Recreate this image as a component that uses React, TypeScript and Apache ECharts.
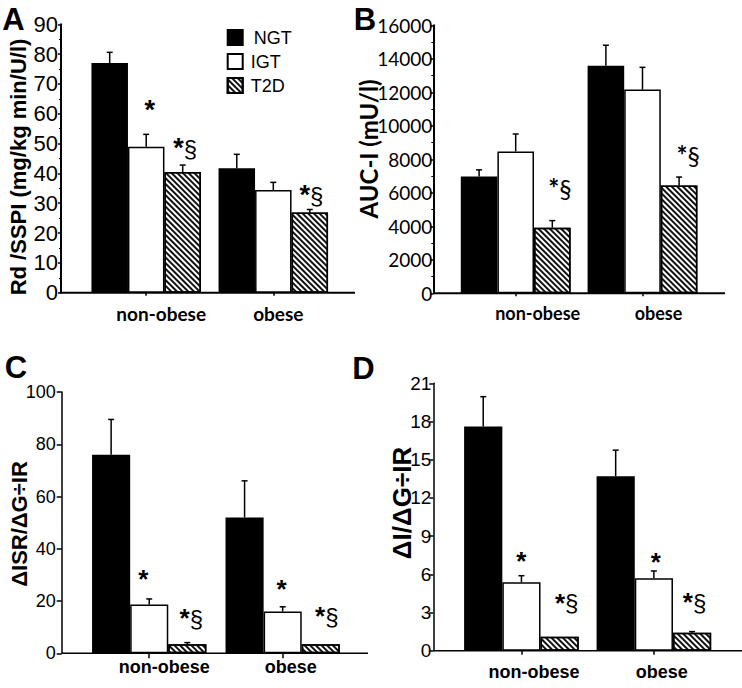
import React, { useEffect, useRef } from 'react';
import * as echarts from 'echarts';

// ---------- data ----------
const categories = ['non-obese', 'obese'];
const groups = ['NGT', 'IGT', 'T2D'];

// Panel A: Rd/SSPI (mg/kg min/U/l)
const aNGT = [77.0, 41.7];
const aNGTsem = [3.6, 4.7];
const aIGT = [48.9, 34.4];
const aIGTsem = [4.2, 2.6];
const aT2D = [40.5, 26.9];
const aT2Dsem = [2.3, 1.0];
const aMarks = [['', '*', '*§'], ['', '', '*§']];

// Panel B: AUC-I (mU/l)
const bNGT = [6970, 13590];
const bNGTsem = [400, 1220];
const bIGT = [8470, 12160];
const bIGTsem = [1040, 1330];
const bT2D = [3920, 6440];
const bT2Dsem = [420, 500];
const bMarks = [['', '', '*§'], ['', '', '*§']];

// Panel C: ΔISR/ΔG÷IR
const cNGT = [76, 52];
const cNGTsem = [13.5, 14];
const cIGT = [18.7, 16];
const cIGTsem = [2.1, 1.8];
const cT2D = [3.5, 3.5];
const cT2Dsem = [0.6, 0.2];
const cMarks = [['', '*', '*§'], ['', '*', '*§']];

// Panel D: ΔI/ΔG÷IR
const dNGT = [17.6, 13.7];
const dNGTsem = [2.35, 2.05];
const dIGT = [5.37, 5.69];
const dIGTsem = [0.52, 0.57];
const dT2D = [1.1, 1.41];
const dT2Dsem = [0.05, 0.09];
const dMarks = [['', '*', '*§'], ['', '*', '*§']];

// y axis scales
const aTicks = { min: 0, max: 90, interval: 10 };
const bTicks = { min: 0, max: 16000, interval: 2000 };
const cTicks = { min: 0, max: 100, interval: 20 };
const dTicks = { min: 0, max: 21, interval: 3 };

const FA = 'Liberation Sans';
const FL = 'Lato';

// ---------- layout / style ----------
const panels = [
  {
    letter: 'A', letterX: 13.5, letterY: 19,
    name: 'Rd /SSPI (mg/kg min/U/l)', nameX: 18.5, nameY: 167, nameFont: FA, nameSize: 22,
    means: [aNGT, aIGT, aT2D], sems: [aNGTsem, aIGTsem, aT2Dsem], marks: aMarks, ticks: aTicks,
    axisX: 61, top: 24.3, bottom: 292.7, left: 82.65, right: 336.85, lineRight: 355, barW: 36.5,
    lw: 2, tickLen: 3, minor: true, tickFont: FA, tickSize: 22, labelMargin: 3,
    catFont: FL, catSize: 19, catMargin: 11, catOff: [15, 5], xTickLen: 3,
    markFont: FA, starSize: 27, sectSize: 24,
    markOff: [[[0, 0], [3.6, -24.5], [2.5, -16.7]], [[0, 0], [0, 0], [1.7, -14.3]]],
  },
  {
    letter: 'B', letterX: 365, letterY: 19,
    name: 'AUC-I (mU/l)', nameX: 368, nameY: 149, nameFont: FL, nameSize: 24,
    means: [bNGT, bIGT, bT2D], sems: [bNGTsem, bIGTsem, bT2Dsem], marks: bMarks, ticks: bTicks,
    axisX: 433.3, top: 25.3, bottom: 293.3, left: 452.3, right: 705.9, lineRight: 725, barW: 36.6,
    lw: 2, tickLen: 3, minor: true, tickFont: FL, tickSize: 19, labelMargin: 1,
    catFont: FL, catSize: 18, catMargin: 11, catOff: [22, 16], xTickLen: 3,
    markFont: FL, starSize: 26, sectSize: 25,
    markOff: [[[0, 0], [0, 0], [7.7, -32.4]], [[0, 0], [0, 0], [9, -22.3]]],
  },
  {
    letter: 'C', letterX: 16, letterY: 367.5,
    name: 'ΔISR/ΔG÷IR', nameX: 19.5, nameY: 524, nameFont: FA, nameSize: 22,
    means: [cNGT, cIGT, cT2D], sems: [cNGTsem, cIGTsem, cT2Dsem], marks: cMarks, ticks: cTicks,
    axisX: 61.7, top: 392, bottom: 653.3, left: 82.5, right: 349.4, lineRight: 368, barW: 38.1,
    lw: 1.5, tickLen: 5, minor: false, tickFont: FA, tickSize: 18, labelMargin: 6,
    catFont: FA, catSize: 18, catMargin: 5, catOff: [15, 8], xTickLen: 5,
    markFont: FA, starSize: 26, sectSize: 24,
    markOff: [[[0, 0], [-6, -19.5], [4, -24.4]], [[0, 0], [-1, -17.9], [6, -27.6]]],
  },
  {
    letter: 'D', letterX: 363.5, letterY: 368.5,
    name: 'ΔI/ΔG÷IR', nameX: 402, nameY: 503, nameFont: FA, nameSize: 26,
    means: [dNGT, dIGT, dT2D], sems: [dNGTsem, dIGTsem, dT2Dsem], marks: dMarks, ticks: dTicks,
    axisX: 433.3, top: 383.3, bottom: 650.7, left: 455.2, right: 720.1, lineRight: 742, barW: 38.2,
    lw: 1.5, tickLen: 4, minor: false, tickFont: FA, tickSize: 19, labelMargin: 2,
    catFont: FA, catSize: 18, catMargin: 12, catOff: [12.5, 8], xTickLen: 4,
    markFont: FA, starSize: 26, sectSize: 24,
    markOff: [[[0, 0], [0, -15.2], [7, -33.4]], [[0, 0], [2, -8.8], [2.5, -29.4]]],
  },
];

const hatch = {
  symbol: 'rect',
  symbolSize: 1,
  dashArrayX: [1, 0],
  dashArrayY: [1.5, 1.5],
  rotation: Math.PI / 4,
  color: '#111',
};

const groupStyles = [
  { color: '#000', borderColor: '#000', borderWidth: 1.5, decal: 'none' },
  { color: '#fff', borderColor: '#000', borderWidth: 1.5, decal: 'none' },
  { color: '#fff', borderColor: '#000', borderWidth: 1.5, decal: hatch },
];

function markText(m: string) {
  return m.split('').map((ch) => (ch === '*' ? `{s|${ch}}` : `{p|${ch}}`)).join('');
}

function buildOption() {
  const grid: any[] = [];
  const xAxis: any[] = [];
  const yAxis: any[] = [];
  const series: any[] = [];
  const graphic: any[] = [];

  panels.forEach((p, i) => {
    grid.push({ left: p.left, top: p.top, width: p.right - p.left, height: p.bottom - p.top, containLabel: false });
    xAxis.push({
      type: 'category', gridIndex: i, data: categories, boundaryGap: true,
      axisLine: { show: false },
      axisTick: { show: true, alignWithLabel: true, length: p.xTickLen, lineStyle: { color: '#000', width: 1.5 } },
      axisLabel: {
        margin: p.catMargin, interval: 0,
        formatter: (v: string) => (v === categories[0] ? `{a|${v}}` : `{b|${v}}`),
        rich: {
          a: { fontFamily: p.catFont, fontSize: p.catSize, fontWeight: 'bold', color: '#000', padding: [0, 0, 0, 2 * p.catOff[0]] },
          b: { fontFamily: p.catFont, fontSize: p.catSize, fontWeight: 'bold', color: '#000', padding: [0, 0, 0, 2 * p.catOff[1]] },
        },
      },
      splitLine: { show: false },
    });
    yAxis.push({
      type: 'value', gridIndex: i, min: p.ticks.min, max: p.ticks.max, interval: p.ticks.interval,
      offset: p.left - p.axisX,
      axisLine: { show: true, lineStyle: { color: '#000', width: p.lw } },
      axisTick: { show: true, length: p.tickLen, lineStyle: { color: '#000', width: 1.5 } },
      minorTick: { show: p.minor, splitNumber: 2, length: 2, lineStyle: { color: '#000', width: 1 } },
      axisLabel: {
        color: '#000', fontFamily: p.tickFont, fontSize: p.tickSize, margin: p.labelMargin,
        formatter: (v: number) => String(v),
      },
      splitLine: { show: false },
    });

    groups.forEach((g, gi) => {
      series.push({
        type: 'bar', name: g, xAxisIndex: i, yAxisIndex: i,
        data: p.means[gi], barWidth: p.barW, barGap: '0%',
        itemStyle: groupStyles[gi], silent: true,
      });
    });

    const ebData: number[][] = [];
    const ebMarks: string[] = [];
    const ebOff: number[][] = [];
    categories.forEach((_, ci) => {
      groups.forEach((_, gi) => {
        ebData.push([ci, gi, p.means[gi][ci], p.means[gi][ci] + p.sems[gi][ci]]);
        ebMarks.push(p.marks[ci][gi]);
        ebOff.push(p.markOff[ci][gi]);
      });
    });
    const barW = p.barW;
    series.push({
      type: 'custom', xAxisIndex: i, yAxisIndex: i, data: ebData, silent: true, clip: false, z: 5,
      renderItem: (params: any, api: any) => {
        const ci = api.value(0);
        const gi = api.value(1);
        const v = api.value(2);
        const t = api.value(3);
        const c0 = api.coord([ci, v]);
        const c1 = api.coord([ci, t]);
        const x = c0[0] + (gi - 1) * barW;
        const children: any[] = [];
        if (c0[1] - c1[1] > 0.8) {
          children.push({ type: 'line', shape: { x1: x, y1: c0[1], x2: x, y2: c1[1] }, style: { stroke: '#000', lineWidth: 1.5 } });
          children.push({ type: 'line', shape: { x1: x - 3, y1: c1[1], x2: x + 3, y2: c1[1] }, style: { stroke: '#000', lineWidth: 1.5 } });
        }
        const m = ebMarks[params.dataIndex];
        if (m) {
          const o = ebOff[params.dataIndex];
          children.push({
            type: 'text', x: x + o[0], y: c1[1] + o[1],
            style: {
              text: markText(m), fill: '#000', align: 'center', verticalAlign: 'middle',
              rich: {
                s: { fontFamily: p.markFont, fontSize: p.starSize, fontWeight: 'bold', fill: '#000' },
                p: { fontFamily: p.markFont, fontSize: p.sectSize, fontWeight: 'normal', fill: '#000' },
              },
            },
          });
        }
        return { type: 'group', children };
      },
    });

    graphic.push({ type: 'line', shape: { x1: p.axisX, y1: p.bottom, x2: p.lineRight, y2: p.bottom }, style: { stroke: '#000', lineWidth: p.lw }, silent: true });
    graphic.push({
      type: 'text', x: p.letterX, y: p.letterY,
      style: { text: p.letter, fontFamily: FA, fontSize: 31, fontWeight: 'bold', fill: '#000', align: 'center', verticalAlign: 'middle' },
    });
    graphic.push({
      type: 'text', x: p.nameX, y: p.nameY, rotation: Math.PI / 2,
      style: { text: p.name, fontFamily: p.nameFont, fontSize: p.nameSize, fontWeight: 'bold', fill: '#000', align: 'center', verticalAlign: 'middle' },
    });
  });

  return {
    animation: false,
    backgroundColor: '#fff',
    grid, xAxis, yAxis, series, graphic,
    legend: {
      data: groups, left: 221.7, top: 23.5, orient: 'vertical', icon: 'rect',
      itemWidth: 15, itemHeight: 15, itemGap: 6, selectedMode: false,
      formatter: (n: string) => (n === 'NGT' ? `{n|${n}}` : `{m|${n}}`),
      textStyle: {
        fontFamily: FA, fontSize: 18, color: '#000', lineHeight: 18,
        rich: {
          n: { fontFamily: FA, fontSize: 18, color: '#000', padding: [0, 0, 0, 6] },
          m: { fontFamily: FA, fontSize: 18, color: '#000', padding: [0, 0, 0, 3] },
        },
      },
    },
  };
}

export default function App() {
  const ref = useRef<HTMLDivElement>(null);
  useEffect(() => {
    document.body.style.margin = '0';
    if (!ref.current) return;
    const chart = echarts.init(ref.current, null, { renderer: 'svg' });
    chart.setOption(buildOption() as any);
    return () => chart.dispose();
  }, []);
  return <div ref={ref} style={{ width: 742, height: 688 }} />;
}
